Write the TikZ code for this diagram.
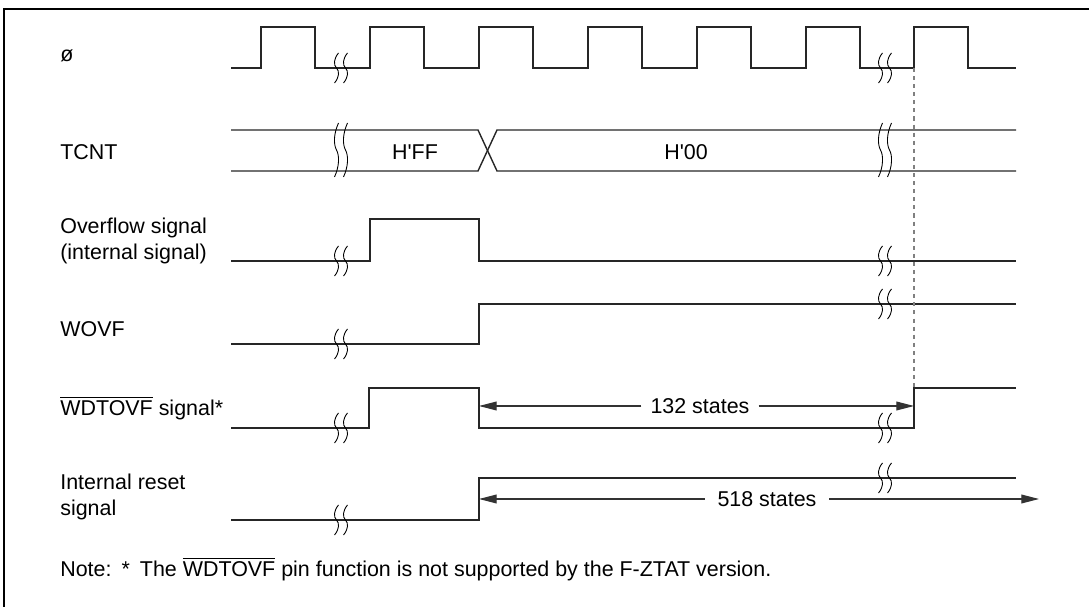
\documentclass[tikz,border=0pt]{standalone}
\usepackage{fontspec}
\setmainfont{Liberation Sans}
\usepackage{tikz}
\usetikzlibrary{arrows.meta}

\tikzset{
  pics/brk/.style={code={
    \foreach \d in {-4.5,4.5}
      \draw[line width=0.5pt] (\d+2,-#1) .. controls (\d-3,-0.6*#1) and (\d-3,-0.2*#1) .. (\d,0)
        .. controls (\d+3,0.2*#1) and (\d+3,0.6*#1) .. (\d-2,#1);
  }}
}

\begin{document}
\begin{tikzpicture}[x=0.02cm, y=-0.02cm,
    every node/.style={font=\fontsize{12.2}{15}\selectfont, inner sep=0pt},
    sig/.style={line width=0.8pt, black!85},
    dim/.style={line width=0.6pt, black!80, -{Triangle[length=10pt,width=5pt]}}]
        \useasboundingbox (0,0) rectangle (1089,607);
        \draw[line width=0.6pt] (4,607) -- (4,9) -- (1089,9);
        \node[anchor=west] (phi) at (60,56) {ø};
        \node[anchor=west] (tcnt) at (60,152) {TCNT};
        \node[anchor=west, align=left] (ovf) at (60,241) {Overflow signal\\(internal signal)};
        \node[anchor=west] (wovf) at (60,329) {WOVF};
        \node[anchor=west] (wdt) at (60,408) {$\overline{\mbox{WDTOVF}}$ signal*};
        \node[anchor=west, align=left] (rst) at (60,497) {Internal reset\\signal};
        \node[anchor=west] (note) at (60,569) {Note:\hspace{5.7pt}*\hspace{5.7pt}The $\overline{\mbox{WDTOVF}}$ pin function is not supported by the F-ZTAT version.};
        % waveforms
        \draw[sig] (231,68) \foreach \r in {261,370,479,588,697,806,914} { -- (\r,68) -- (\r,27) -- (\r+54,27) -- (\r+54,68) } -- (1016,68);
        \draw[sig] (231,130) -- (478,130) -- (497,171) -- (1016,171);
        \draw[sig] (231,171) -- (478,171) -- (497,130) -- (1016,130);
        \node (ff) at (415,152) {H\textquotesingle FF};
        \node (zero) at (686,152) {H\textquotesingle 00};
        \draw[sig] (231,261) -| (370,219) -| (479,261) -- (1016,261);
        \draw[sig] (231,344) -| (479,304) -- (1016,304);
        \draw[sig] (231,428) -| (369,388) -| (479,428) -| (914,388) -- (1016,388);
        \draw[sig] (231,520) -| (479,478) -- (1016,478);
        \draw[gray, line width=0.8pt, dash pattern=on 2.3pt off 2.3pt] (914,68) -- (914,388);
        % breaks
        \pic at (341,68) {brk=15};   \pic at (885,68) {brk=15};
        \pic at (341,150) {brk=27};  \pic at (885,150) {brk=27};
        \pic at (341,261) {brk=15};  \pic at (885,261) {brk=15};
        \pic at (341,344) {brk=15};  \pic at (885,304) {brk=15};
        \pic at (341,428) {brk=15};  \pic at (885,428) {brk=15};
        \pic at (341,520) {brk=15};  \pic at (885,478) {brk=15};
        % state counts
        \node[inner xsep=5pt] (s132) at (700,406) {132 states};
        \coordinate (p132a) at (479,406);
        \coordinate (p132b) at (914,406);
        \draw[dim] (s132) -- (p132a);
        \draw[dim] (s132) -- (p132b);
        \node[inner xsep=7pt] (s518) at (767,499) {518 states};
        \coordinate (p518a) at (479,499);
        \coordinate (p518b) at (1039,499);
        \draw[dim] (s518) -- (p518a);
        \draw[dim] (s518) -- (p518b);
    \end{tikzpicture}
\end{document}
